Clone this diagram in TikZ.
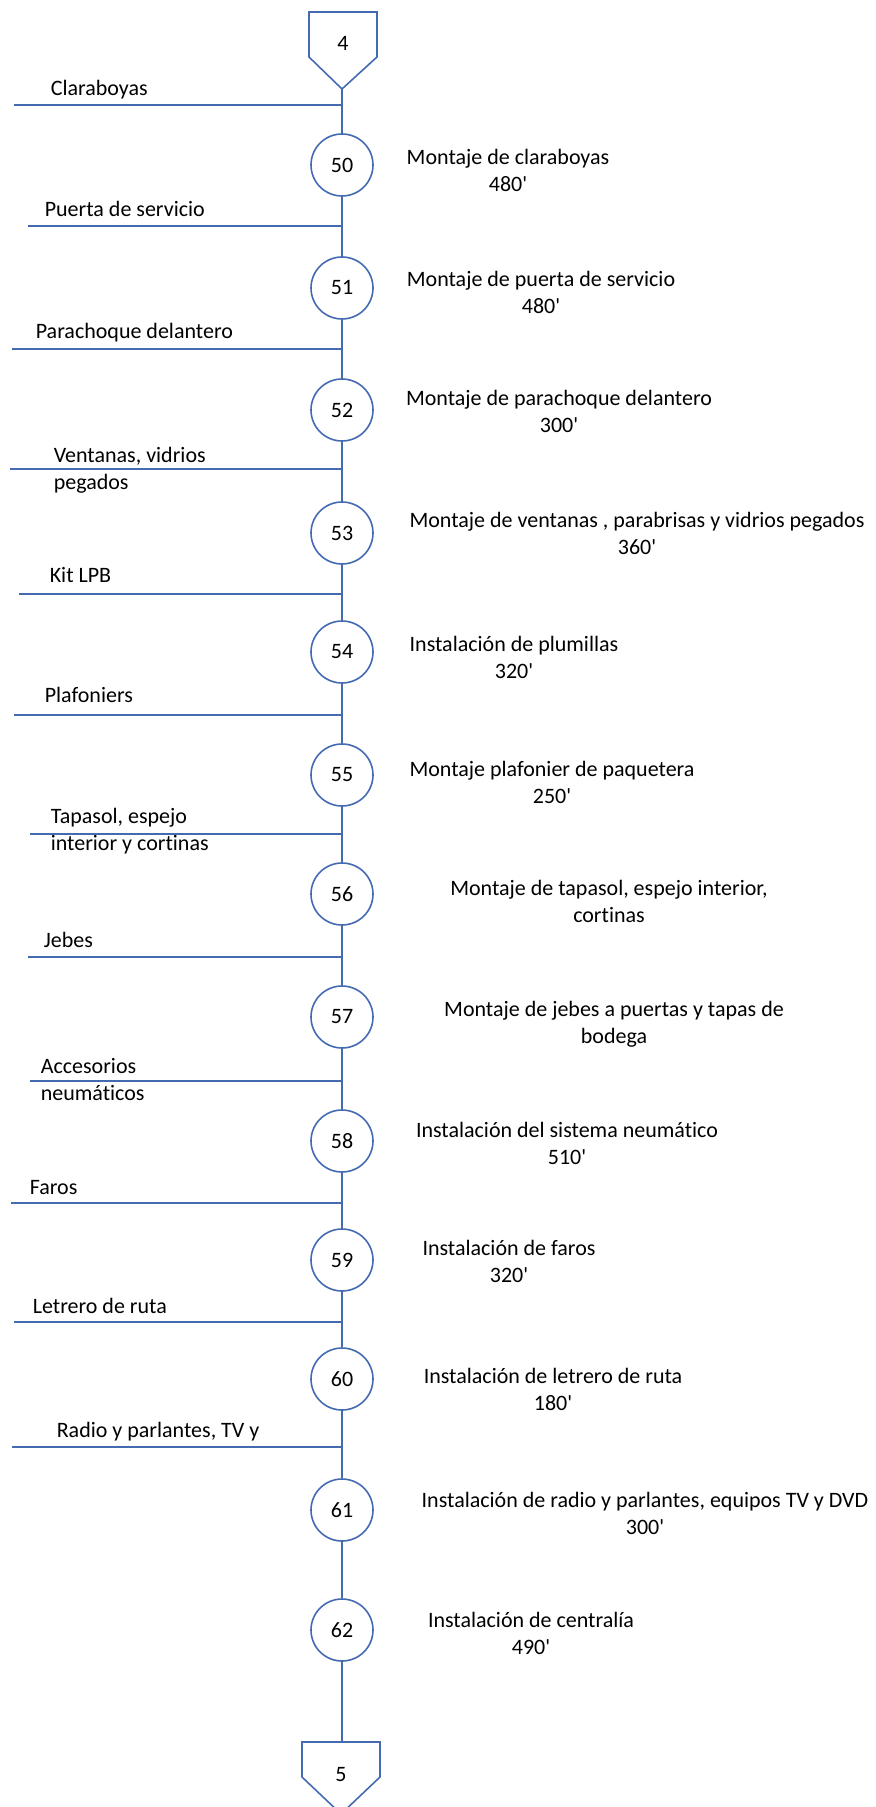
\documentclass[tikz,border=0pt]{standalone}
\usepackage{fontspec}
\setmainfont{Carlito}[Ligatures={TeX,NoCommon}]
\definecolor{dopblue}{RGB}{68,106,178}

\begin{document}
\begin{tikzpicture}[x=0.5pt,y=-0.5pt,line width=0.8pt,
  font=\fontsize{11}{13.5}\selectfont,
  op/.style={circle,draw=dopblue,minimum size=31pt,inner sep=0pt},
  flow/.style={draw=dopblue},
  inlbl/.style={anchor=west,align=left,inner sep=0pt},
  oplbl/.style={align=center,inner sep=0pt}]
  \useasboundingbox (0,0) rectangle (875,1807);
  % conectores de pagina
  \draw[flow] (309,12) -- (377,12) -- (377,57) -- (342,89) -- (309,57) -- cycle;
  \node (c4) at (343,43) {4};
  \coordinate (c4tip) at (342,89);
  \draw[flow] (302,1742) -- (380,1742) -- (380,1777) -- (341,1814) -- (302,1777) -- cycle;
  \node (c5) at (341,1774) {5};
  \coordinate (c5top) at (342,1742);

  % operaciones
  \node[op] (n50) at (342,165) {50};
  \node[op] (n51) at (342,288) {51};
  \node[op] (n52) at (342,410) {52};
  \node[op] (n53) at (342,533) {53};
  \node[op] (n54) at (342,652) {54};
  \node[op] (n55) at (342,775) {55};
  \node[op] (n56) at (342,894) {56};
  \node[op] (n57) at (342,1017) {57};
  \node[op] (n58) at (342,1141) {58};
  \node[op] (n59) at (342,1260) {59};
  \node[op] (n60) at (342,1379) {60};
  \node[op] (n61) at (342,1510) {61};
  \node[op] (n62) at (342,1630) {62};

  \node[oplbl] (t50) at (508,170) {Montaje de claraboyas\\480\textquotesingle};
  \node[oplbl] (t51) at (541,292) {Montaje de puerta de servicio\\480\textquotesingle};
  \node[oplbl] (t52) at (559,411) {Montaje de parachoque delantero\\300\textquotesingle};
  \node[oplbl] (t53) at (637,533) {Montaje de ventanas , parabrisas y vidrios pegados\\360\textquotesingle};
  \node[oplbl] (t54) at (514,657) {Instalación de plumillas\\320\textquotesingle};
  \node[oplbl] (t55) at (552,782) {Montaje plafonier de paquetera\\250\textquotesingle};
  \node[oplbl] (t56) at (609,901) {Montaje de tapasol, espejo interior,\\cortinas};
  \node[oplbl] (t57) at (614,1024) {Montaje de jebes a puertas y tapas de\\bodega};
  \node[oplbl] (t58) at (567,1143) {Instalación del sistema neumático\\510\textquotesingle};
  \node[oplbl] (t59) at (509,1261) {Instalación de faros\\320\textquotesingle};
  \node[oplbl] (t60) at (553,1389) {Instalación de letrero de ruta\\180\textquotesingle};
  \node[oplbl] (t61) at (645,1513) {Instalación de radio y parlantes, equipos TV y DVD\\300\textquotesingle};
  \node[oplbl] (t62) at (531,1633) {Instalación de centralía\\490\textquotesingle};

  % materiales que entran
  \coordinate (in50) at (14,105);
  \coordinate (in51) at (28,226);
  \coordinate (in52) at (12,349);
  \coordinate (in53) at (10,469);
  \coordinate (in54) at (19,594);
  \coordinate (in55) at (14,715);
  \coordinate (in56) at (30,834);
  \coordinate (in57) at (28,957);
  \coordinate (in58) at (30,1081);
  \coordinate (in59) at (11,1203);
  \coordinate (in60) at (14,1322);
  \coordinate (in61) at (12,1447);

  \node[inlbl] (m50) at (50,90) {Claraboyas};
  \node[inlbl] (m51) at (44,209) {Puerta de servicio};
  \node[inlbl] (m52) at (35,333) {Parachoque delantero};
  \node[inlbl] (m53) at (53,470) {Ventanas, vidrios\\pegados};
  \node[inlbl] (m54) at (49,575) {Kit LPB};
  \node[inlbl] (m55) at (44,695) {Plafoniers};
  \node[inlbl] (m56) at (50,831) {Tapasol, espejo\\interior y cortinas};
  \node[inlbl] (m57) at (43,940) {Jebes};
  \node[inlbl] (m58) at (40,1080) {Accesorios\\neumáticos};
  \node[inlbl] (m59) at (29,1188) {Faros};
  \node[inlbl] (m60) at (32,1306) {Letrero de ruta};
  \node[inlbl] (m61) at (56,1432) {Radio y parlantes, TV y};

  \foreach \k in {50,...,61}
    \draw[flow] (in\k) -- (in\k -| n50);

  % linea principal
  \draw[flow] (c4tip) -- (n50.north);
  \draw[flow] (n50.south) -- (n51.north);
  \draw[flow] (n51.south) -- (n52.north);
  \draw[flow] (n52.south) -- (n53.north);
  \draw[flow] (n53.south) -- (n54.north);
  \draw[flow] (n54.south) -- (n55.north);
  \draw[flow] (n55.south) -- (n56.north);
  \draw[flow] (n56.south) -- (n57.north);
  \draw[flow] (n57.south) -- (n58.north);
  \draw[flow] (n58.south) -- (n59.north);
  \draw[flow] (n59.south) -- (n60.north);
  \draw[flow] (n60.south) -- (n61.north);
  \draw[flow] (n61.south) -- (n62.north);
  \draw[flow] (n62.south) -- (c5top);
\end{tikzpicture}
\end{document}
